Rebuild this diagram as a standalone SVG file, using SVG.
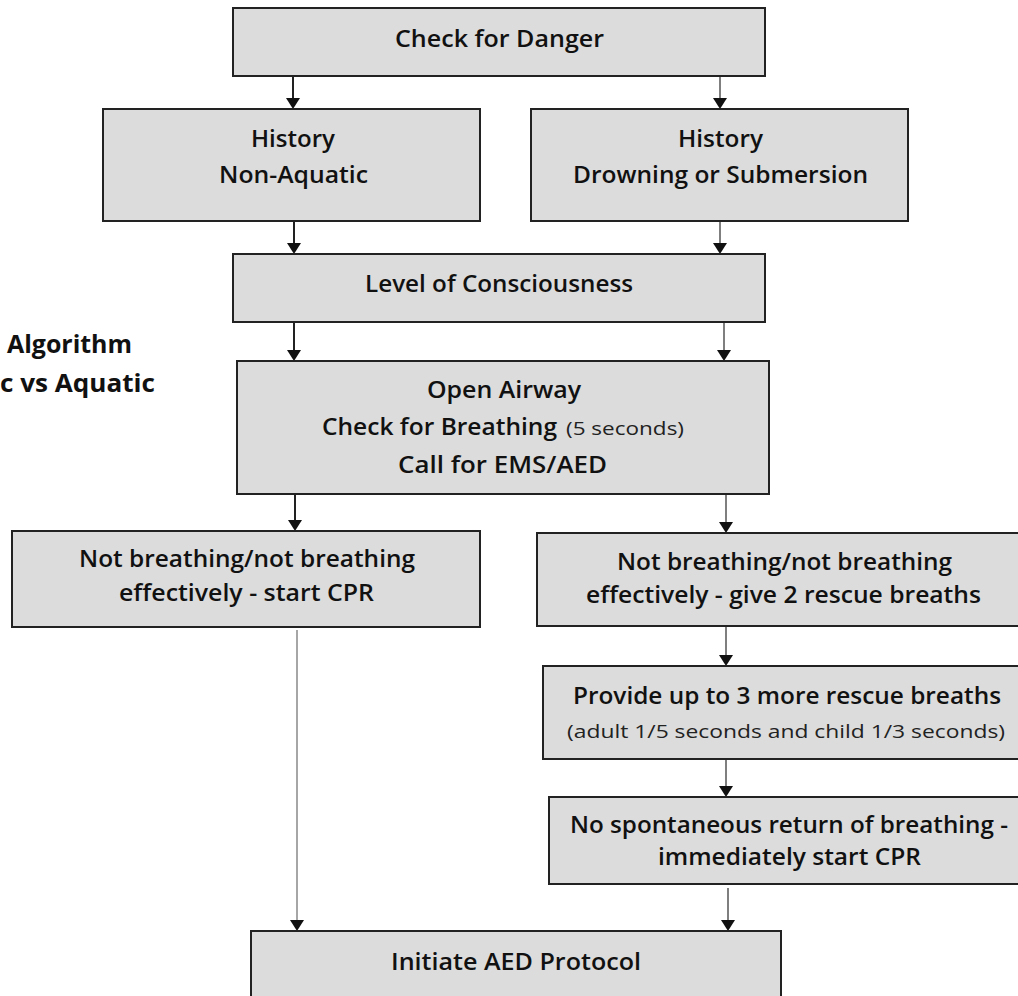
<svg xmlns="http://www.w3.org/2000/svg" width="1018" height="996" viewBox="0 0 1018 996">
<style>
.box{fill:#dcdcdc;stroke:#222;stroke-width:2}
.t{font-family:"Open Sans","Liberation Sans",sans-serif;font-weight:600;font-size:24px;fill:#111;text-anchor:middle}
.s{font-family:"Open Sans","Liberation Sans",sans-serif;font-weight:400;font-size:19px;fill:#222}
.title{font-family:"Open Sans","Liberation Sans",sans-serif;font-weight:700;font-size:25px;fill:#111}
.c{stroke:#222;stroke-width:2;fill:none}
.cg{stroke:#555;stroke-width:1.5;fill:none}
.cl{stroke:#888;stroke-width:1.5;fill:none}
</style>
<rect width="1018" height="996" fill="#fff"/>
<g id="title">
<text class="title" x="7" y="353" textLength="125" lengthAdjust="spacingAndGlyphs">Algorithm</text>
<text class="title" x="0" y="392" textLength="155" lengthAdjust="spacingAndGlyphs">c vs Aquatic</text>
</g>
<g id="connectors">
<g fill="#111">
<line class="c" x1="293" y1="76" x2="293" y2="100"/><polygon points="286,98 300,98 293,109"/>
<line class="cg" x1="720" y1="76" x2="720" y2="100"/><polygon points="713,98 727,98 720,109"/>
<line class="c" x1="294" y1="221" x2="294" y2="245"/><polygon points="287,243 301,243 294,254"/>
<line class="cg" x1="720" y1="221" x2="720" y2="245"/><polygon points="713,243 727,243 720,254"/>
<line class="c" x1="294" y1="322" x2="294" y2="352"/><polygon points="287,350 301,350 294,361"/>
<line class="cg" x1="724" y1="322" x2="724" y2="352"/><polygon points="717,350 731,350 724,361"/>
<line class="c" x1="295" y1="494" x2="295" y2="522"/><polygon points="288,520 302,520 295,531"/>
<line class="cg" x1="726" y1="494" x2="726" y2="524"/><polygon points="719,522 733,522 726,533"/>
<line class="cl" x1="297" y1="630" x2="297" y2="922"/><polygon points="290,920 304,920 297,931"/>
<line class="cg" x1="726" y1="627" x2="726" y2="657"/><polygon points="719,655 733,655 726,666"/>
<line class="cg" x1="726" y1="760" x2="726" y2="788"/><polygon points="719,786 733,786 726,797"/>
<line class="cg" x1="728" y1="888" x2="728" y2="922"/><polygon points="721,920 735,920 728,931"/>
</g>
</g>
<g id="n-danger">
<rect class="box" x="233" y="8" width="532" height="68"/>
<text class="t" x="499.5" y="47" textLength="209" lengthAdjust="spacingAndGlyphs">Check for Danger</text>
</g>
<g id="n-hist-non">
<rect class="box" x="103" y="109" width="377" height="112"/>
<text class="t" x="293" y="147" textLength="84" lengthAdjust="spacingAndGlyphs">History</text>
<text class="t" x="293.5" y="183" textLength="149" lengthAdjust="spacingAndGlyphs">Non-Aquatic</text>
</g>
<g id="n-hist-drown">
<rect class="box" x="531" y="109" width="377" height="112"/>
<text class="t" x="720.5" y="147" textLength="85" lengthAdjust="spacingAndGlyphs">History</text>
<text class="t" x="720.5" y="183" textLength="295" lengthAdjust="spacingAndGlyphs">Drowning or Submersion</text>
</g>
<g id="n-loc">
<rect class="box" x="233" y="254" width="532" height="68"/>
<text class="t" x="499" y="292" textLength="268" lengthAdjust="spacingAndGlyphs">Level of Consciousness</text>
</g>
<g id="n-airway">
<rect class="box" x="237" y="361" width="532" height="133"/>
<text class="t" x="504" y="398" textLength="154" lengthAdjust="spacingAndGlyphs">Open Airway</text>
<text class="t" y="435"><tspan x="439.5" textLength="235" lengthAdjust="spacingAndGlyphs">Check for Breathing</tspan><tspan class="s" x="566" style="text-anchor:start" textLength="118" lengthAdjust="spacingAndGlyphs">(5 seconds)</tspan></text>
<text class="t" x="502.5" y="473" textLength="209" lengthAdjust="spacingAndGlyphs">Call for EMS/AED</text>
</g>
<g id="n-nb-left">
<rect class="box" x="12" y="531" width="468" height="96"/>
<text class="t" x="247" y="567" textLength="336" lengthAdjust="spacingAndGlyphs">Not breathing/not breathing</text>
<text class="t" x="246.5" y="601" textLength="255" lengthAdjust="spacingAndGlyphs">effectively - start CPR</text>
</g>
<g id="n-nb-right">
<rect class="box" x="537" y="533" width="500" height="93"/>
<text class="t" x="784.5" y="570" textLength="335" lengthAdjust="spacingAndGlyphs">Not breathing/not breathing</text>
<text class="t" x="783.5" y="603" textLength="395" lengthAdjust="spacingAndGlyphs">effectively - give 2 rescue breaths</text>
</g>
<g id="n-provide">
<rect class="box" x="543" y="666" width="490" height="93"/>
<text class="t" x="787" y="704" textLength="428" lengthAdjust="spacingAndGlyphs">Provide up to 3 more rescue breaths</text>
<text class="s" x="786" y="738" style="text-anchor:middle" textLength="438" lengthAdjust="spacingAndGlyphs">(adult 1/5 seconds and child 1/3 seconds)</text>
</g>
<g id="n-nospont">
<rect class="box" x="549" y="797" width="485" height="87"/>
<text class="t" x="789" y="833" textLength="438" lengthAdjust="spacingAndGlyphs">No spontaneous return of breathing -</text>
<text class="t" x="789.5" y="865" textLength="263" lengthAdjust="spacingAndGlyphs">immediately start CPR</text>
</g>
<g id="n-aed">
<rect class="box" x="251" y="931" width="530" height="80"/>
<text class="t" x="516" y="970" textLength="250" lengthAdjust="spacingAndGlyphs">Initiate AED Protocol</text>
</g>
</svg>
